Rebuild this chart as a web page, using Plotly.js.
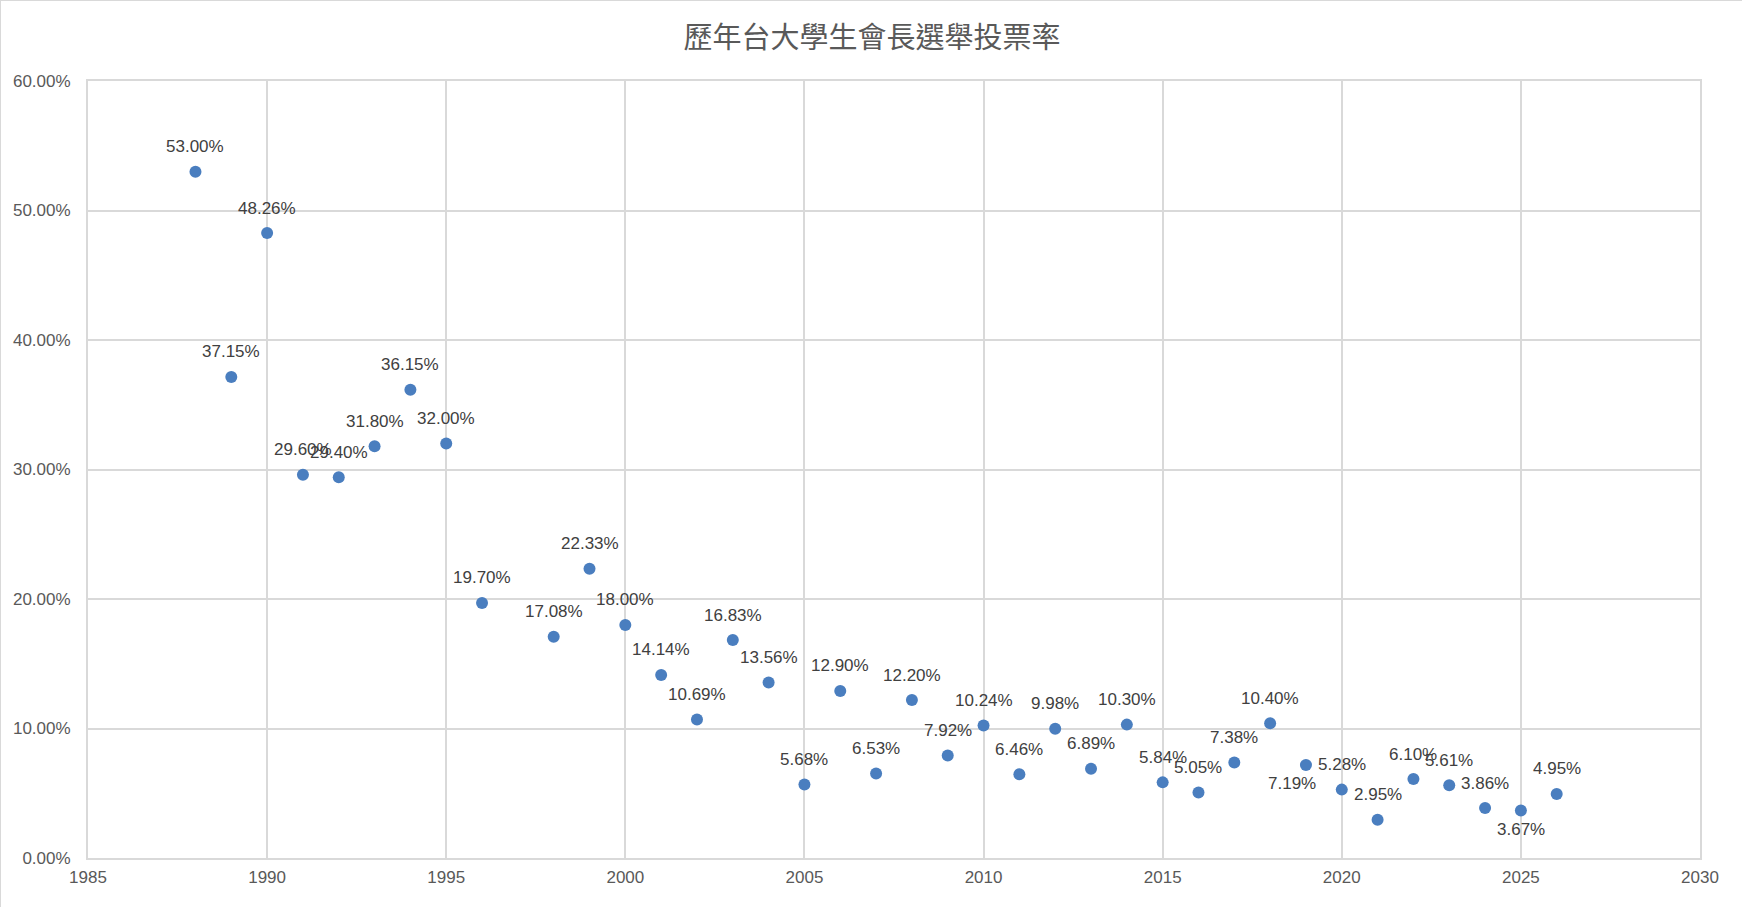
<!DOCTYPE html>
<html>
<head>
<meta charset="utf-8">
<script src="https://cdn.plot.ly/plotly-3.0.1.min.js"></script>
<style>
  html, body { margin: 0; padding: 0; background: #fff; }
  #chart { width: 1742px; height: 907px; box-sizing: border-box; border: 1px solid #d9d9d9; }
</style>
</head>
<body>
<div id="chart"></div>
<script>
// 歷年台大學生會長選舉投票率 (turnout, %)
const years = [1988, 1989, 1990, 1991, 1992, 1993, 1994, 1995, 1996, 1998,
               1999, 2000, 2001, 2002, 2003, 2004, 2005, 2006, 2007, 2008,
               2009, 2010, 2011, 2012, 2013, 2014, 2015, 2016, 2017, 2018,
               2019, 2020, 2021, 2022, 2023, 2024, 2025, 2026];
const turnout = [53.00, 37.15, 48.26, 29.60, 29.40, 31.80, 36.15, 32.00, 19.70, 17.08,
                 22.33, 18.00, 14.14, 10.69, 16.83, 13.56, 5.68, 12.90, 6.53, 12.20,
                 7.92, 10.24, 6.46, 9.98, 6.89, 10.30, 5.84, 5.05, 7.38, 10.40,
                 7.19, 5.28, 2.95, 6.10, 5.61, 3.86, 3.67, 4.95];
const xTicks = [1985, 1990, 1995, 2000, 2005, 2010, 2015, 2020, 2025, 2030];
const yTicks = [0, 10, 20, 30, 40, 50, 60];

// labels that sit under their marker instead of above
const belowYears = [2019, 2025];

const gridColor = '#d9d9d9';
const labelFont = { family: 'Liberation Sans, Arial, sans-serif', size: 17, color: '#404040' };

const trace = {
    x: years,
    y: turnout,
    type: 'scatter',
    mode: 'markers',
    marker: { color: '#4a7ebf', size: 12 },
    hoverinfo: 'x+y',
    showlegend: false
};

// data labels as annotations so the offset can match the original
const annotations = years.map((yr, i) => {
    const below = belowYears.includes(yr);
    return {
        x: yr,
        y: turnout[i],
        xref: 'x',
        yref: 'y',
        text: turnout[i].toFixed(2) + '%',
        showarrow: false,
        font: labelFont,
        yshift: below ? -19 : 25,
        xshift: yr === 2019 ? -14 : 0
    };
});

const layout = {
    width: 1742,
    height: 907,
    margin: { l: 87, r: 43, t: 80, b: 50 },
    paper_bgcolor: '#ffffff',
    plot_bgcolor: '#ffffff',
    title: {
        text: '歷年台大學生會長選舉投票率',
        x: 0.5,
        xref: 'container',
        xanchor: 'center',
        y: 1 - 37 / 907,
        yref: 'container',
        yanchor: 'middle',
        font: { family: 'Noto Sans CJK TC, sans-serif', size: 29, color: '#595959' }
    },
    xaxis: {
        range: [1985, 2030],
        tickvals: xTicks,
        ticktext: xTicks.map(String),
        showgrid: true,
        gridcolor: gridColor,
        gridwidth: 2,
        zeroline: false,
        showline: true,
        mirror: true,
        linecolor: gridColor,
        linewidth: 2,
        ticks: '',
        ticklabelstandoff: 3,
        tickfont: { family: 'Liberation Sans, Arial, sans-serif', size: 17, color: '#595959' }
    },
    yaxis: {
        range: [0, 60],
        tickvals: yTicks,
        ticktext: yTicks.map(v => v.toFixed(2) + '%'),
        showgrid: true,
        gridcolor: gridColor,
        gridwidth: 2,
        zeroline: false,
        showline: true,
        mirror: true,
        linecolor: gridColor,
        linewidth: 2,
        ticks: '',
        ticklabelstandoff: 12,
        tickfont: { family: 'Liberation Sans, Arial, sans-serif', size: 17, color: '#595959' }
    },
    annotations: annotations
};

Plotly.newPlot('chart', [trace], layout, { displayModeBar: false, staticPlot: true });
</script>
</body>
</html>
